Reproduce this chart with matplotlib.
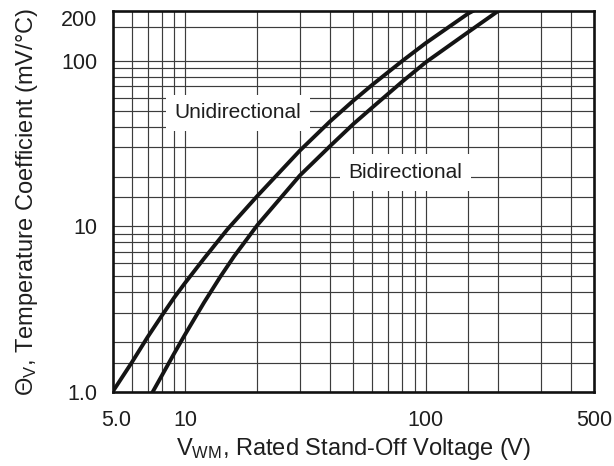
import matplotlib
matplotlib.use('Agg')
import matplotlib.pyplot as plt
import matplotlib.transforms as mtransforms
from matplotlib.ticker import NullLocator

plt.rcParams['font.family'] = ['Liberation Sans', 'DejaVu Sans']
plt.rcParams['mathtext.fontset'] = 'custom'
plt.rcParams['mathtext.rm'] = 'Liberation Sans'
plt.rcParams['mathtext.it'] = 'Liberation Sans'

# Unidirectional curve: V_WM (V) vs temperature coefficient (mV/°C)
uni_v = [5.0, 6.0, 7.0, 8.0, 9.0, 10.0, 12.0, 15.0, 20.0, 30.0, 40.0, 50.0, 60.0, 80.0, 100.0, 150.0, 157.0]
uni_t = [1.0, 1.5, 2.15, 2.88, 3.7, 4.55, 6.4, 9.6, 15.3, 28.7, 43.0, 57.4, 71.7, 100.0, 128.0, 193.0, 200.0]

# Bidirectional curve
bi_v = [7.34, 8.0, 9.0, 10.0, 12.0, 14.0, 16.0, 20.0, 30.0, 40.0, 50.0, 60.0, 80.0, 100.0, 150.0, 200.0]
bi_t = [1.0, 1.25, 1.7, 2.22, 3.47, 4.95, 6.6, 10.2, 20.3, 30.5, 41.5, 52.3, 75.0, 98.0, 149.0, 200.0]

x_ticks = [5, 10, 100, 500]
x_tick_labels = ['5.0', '10', '100', '500']
y_ticks = [1, 10, 100, 200]
y_tick_labels = ['1.0', '10', '100', '200']

x_grid = [6, 7, 8, 9, 10, 20, 30, 40, 50, 60, 70, 80, 90, 100, 150, 200, 300, 400]
y_grid = [1.5, 2, 3, 4, 5, 6, 7, 8, 9, 10, 15, 20, 30, 40, 50, 60, 70, 80, 90, 100, 160]

x_label = 'V$_{\\mathregular{WM}}$, Rated Stand-Off Voltage (V)'
y_label = '\u0398$_{\\mathregular{V}}$, Temperature Coefficient (mV/\u00b0C)'

FS_TICK = 15.5
FS_NOTE = 15
FS_LABEL = 17
TXT = '#1e1e1e'

fig = plt.figure(figsize=(6.14, 4.66), dpi=100)
ax = fig.add_axes([112.5 / 614, 74 / 466, 481.5 / 614, 381 / 466])
ax.set_xscale('log')
ax.set_yscale('log')
ax.set_xlim(5, 500)
ax.set_ylim(1, 200)

grid_col = '#3c3c3c'
for gx in x_grid:
    ax.axvline(gx, color=grid_col, lw=0.85, zorder=1)
for gy in y_grid:
    ax.axhline(gy, color=grid_col, lw=0.85, zorder=1)

ax.plot(uni_v, uni_t, color='#141414', lw=2.8, zorder=5, solid_joinstyle='round')
ax.plot(bi_v, bi_t, color='#141414', lw=2.8, zorder=5, solid_joinstyle='round')

box = dict(boxstyle='square,pad=0.42', facecolor='white', edgecolor='none')
ax.text(16.6, 48.5, 'Unidirectional', fontsize=FS_NOTE, ha='center', va='center',
        bbox=box, zorder=3, color=TXT)
ax.text(82.4, 21.1, 'Bidirectional', fontsize=FS_NOTE, ha='center', va='center',
        bbox=box, zorder=3, color=TXT)

ax.set_xticks(x_ticks)
ax.set_xticklabels(x_tick_labels)
ax.set_yticks(y_ticks)
ax.set_yticklabels(y_tick_labels)
ax.xaxis.set_minor_locator(NullLocator())
ax.yaxis.set_minor_locator(NullLocator())
ax.tick_params(axis='both', which='both', length=0, labelsize=FS_TICK, colors=TXT)
ax.tick_params(axis='x', pad=13)
ax.tick_params(axis='y', pad=11)

for sp in ax.spines.values():
    sp.set_linewidth(1.9)
    sp.set_color('#111111')
    sp.set_zorder(6)

# nudge end tick labels as in the original
lbl200 = ax.get_yticklabels()[3]
lbl200.set_transform(lbl200.get_transform() + mtransforms.ScaledTranslation(0, -7 / 100, fig.dpi_scale_trans))
lbl5 = ax.get_xticklabels()[0]
lbl5.set_transform(lbl5.get_transform() + mtransforms.ScaledTranslation(4 / 100, 0, fig.dpi_scale_trans))

ax.set_xlabel(x_label, fontsize=FS_LABEL, color=TXT)
ax.set_ylabel(y_label, fontsize=FS_LABEL, color=TXT)
ax.xaxis.set_label_coords(0.5, (392 - 455) / 381)
ax.xaxis.label.set_va('baseline')
ax.yaxis.set_label_coords((33 - 112.5) / 481.5, 0.5)
ax.yaxis.label.set_va('baseline')

fig.savefig('out.png', dpi=100)
